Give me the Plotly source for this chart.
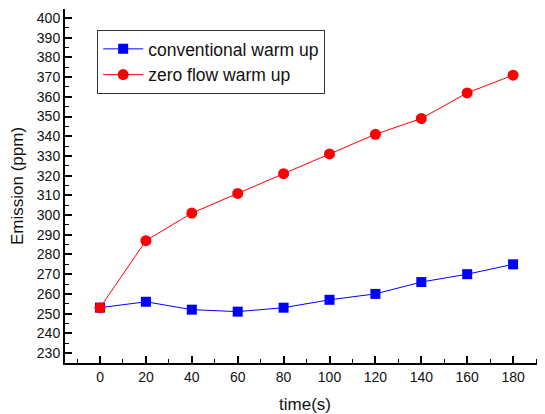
import plotly.graph_objects as go

time_s = [0, 20, 40, 60, 80, 100, 120, 140, 160, 180]
conventional = [253, 256, 252, 251, 253, 257, 260, 266, 270, 275]
zero_flow = [253, 287, 301, 311, 321, 331, 341, 349, 362, 371]

x_ticks = [0, 20, 40, 60, 80, 100, 120, 140, 160, 180]
y_ticks = list(range(230, 401, 10))

FONT = "Liberation Sans, Arial"
X_RANGE = [-15.26, 193.9]

fig = go.Figure()
fig.add_trace(go.Scatter(
    x=time_s, y=conventional, mode="lines+markers", name="conventional warm up",
    line=dict(color="#0000FF", width=1),
    marker=dict(symbol="square", size=10, color="#0000FF"),
))
fig.add_trace(go.Scatter(
    x=time_s, y=zero_flow, mode="lines+markers", name="zero flow warm up",
    line=dict(color="#FF0000", width=1),
    marker=dict(symbol="circle", size=11, color="#FF0000"),
))

fig.update_xaxes(
    range=X_RANGE, tickvals=x_ticks, automargin=False,
    showline=True, linecolor="black", linewidth=2, mirror=False,
    ticks="inside", tickcolor="black", ticklen=7, tickwidth=1.5,
    showgrid=False, zeroline=False,
    tickfont=dict(family=FONT, size=14, color="#111"),
    title=dict(text="time(s)", font=dict(family=FONT, size=17, color="#111"), standoff=14),
    minor=dict(ticks="inside", ticklen=4, tickcolor="black", tickwidth=1, dtick=10, tick0=0, showgrid=False),
)
fig.update_yaxes(
    range=[224.93, 404.57], tickvals=y_ticks, automargin=False,
    showline=True, linecolor="black", linewidth=2, mirror=False,
    ticks="inside", tickcolor="black", ticklen=7, tickwidth=1.5,
    showgrid=False, zeroline=False,
    tickfont=dict(family=FONT, size=14, color="#111"),
    title=dict(text="Emission (ppm)", font=dict(family=FONT, size=17, color="#111"), standoff=12),
    minor=dict(ticks="inside", ticklen=4, tickcolor="black", tickwidth=1, dtick=5, tick0=0, showgrid=False),
)

fig.update_layout(
    width=537, height=406,
    margin=dict(l=57, r=0, t=1, b=51),
    plot_bgcolor="white", paper_bgcolor="white",
    font=dict(family=FONT, color="#111"),
    xaxis2=dict(
        overlaying="x", side="top", matches="x", anchor="y",
        showline=True, linecolor="#222", linewidth=1,
        ticks="inside", ticklen=2, tickcolor="#222", tickwidth=1,
        dtick=10, tick0=0, showticklabels=False, showgrid=False, zeroline=False,
        range=X_RANGE,
    ),
    legend=dict(
        x=0.067, y=0.9407, xanchor="left", yanchor="top",
        bgcolor="white", bordercolor="#333", borderwidth=1,
        font=dict(family=FONT, size=17.5, color="#111"),
        tracegroupgap=0, itemwidth=40,
    ),
)

fig.write_html("out.html")
